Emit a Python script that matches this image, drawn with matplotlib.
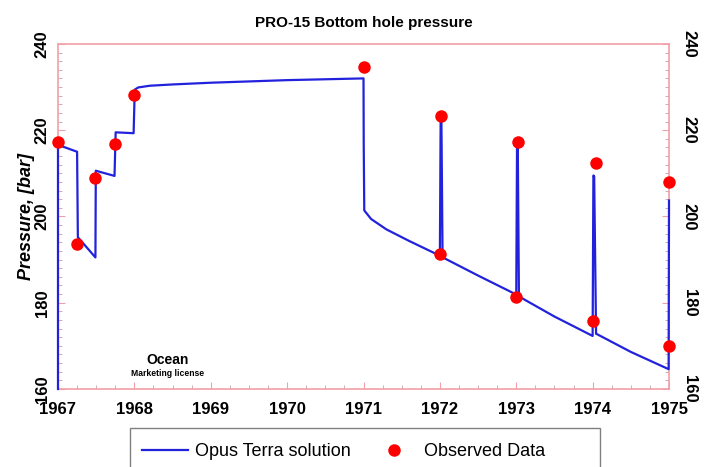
import matplotlib.pyplot as plt
from matplotlib.ticker import MultipleLocator
from matplotlib.patches import Rectangle

plt.rcParams['font.family'] = ['Liberation Sans', 'DejaVu Sans']

# simulated bottom hole pressure (time in years, pressure in bar)
sol_t = [1967.0, 1967.0, 1967.25, 1967.26, 1967.49, 1967.495, 1967.74, 1967.755,
         1967.99, 1968.005, 1968.05, 1968.2, 1968.5, 1969.0, 1969.5, 1970.0,
         1970.5, 1971.0, 1971.003, 1971.01, 1971.1, 1971.3, 1971.6, 1972.0,
         1972.01, 1972.02, 1972.035, 1972.06, 1972.5, 1973.0, 1973.01, 1973.02,
         1973.035, 1973.06, 1973.5, 1974.0, 1974.01, 1974.02, 1974.045, 1974.07,
         1974.5, 1974.995, 1975.0]
sol_p = [160, 216.6, 215.0, 195.2, 190.5, 210.6, 209.4, 219.5,
         219.3, 229.4, 229.9, 230.3, 230.6, 231.0, 231.3, 231.6,
         231.8, 232.0, 216.5, 201.4, 199.4, 197.0, 194.3, 190.9,
         222.4, 222.2, 190.8, 190.3, 186.3, 181.9, 216.0, 215.8,
         181.6, 181.2, 176.8, 172.3, 209.5, 209.3, 172.8, 172.6,
         168.6, 164.6, 203.7]

# observed pressures
obs_t = [1967.0, 1967.25, 1967.49, 1967.75, 1968.0, 1971.0, 1972.0, 1972.02,
         1973.0, 1973.02, 1974.0, 1974.04, 1975.0, 1975.0]
obs_p = [217.2, 193.5, 208.8, 216.7, 228.1, 234.7, 191.2, 223.3,
         181.4, 217.2, 175.8, 212.3, 170.0, 208.1]

years = list(range(1967, 1976))
pticks = [160, 180, 200, 220, 240]

spine_col = '#f2a0a8'

fig = plt.figure(figsize=(7.09, 4.67), dpi=100)
ax = fig.add_axes([0.0818, 0.167, 0.8618, 0.739])

# right hand axis only carries the mirrored labels, drawn first so the curve sits on top
ax2 = ax.twinx()
ax2.set_ylim(160, 240)
ax2.set_yticks(pticks)
ax2.set_yticklabels([str(p) for p in pticks], fontsize=12, fontweight='bold',
                    rotation=-90, va='center')
ax2.yaxis.set_minor_locator(MultipleLocator(2))
for s in ax2.spines.values():
    s.set_visible(False)
ax.set_zorder(ax2.get_zorder() + 1)
ax.patch.set_visible(False)

ax.plot(sol_t, sol_p, color='#2222dd', lw=1.6, clip_on=False, zorder=4,
        label='Opus Terra solution')
ax.plot(obs_t, obs_p, 'o', color='#ff0000', ms=9, mec='none', clip_on=False,
        zorder=5, label='Observed Data')

ax.set_xlim(1967, 1975)
ax.set_ylim(160, 240)
ax.set_xticks(years)
ax.set_xticklabels([str(y) for y in years], fontsize=12, fontweight='bold')
ax.xaxis.set_minor_locator(MultipleLocator(0.25))
ax.set_yticks(pticks)
ax.set_yticklabels([str(p) for p in pticks], fontsize=12, fontweight='bold',
                   rotation=90, va='center')
ax.yaxis.set_minor_locator(MultipleLocator(2))

for s in ax.spines.values():
    s.set_color(spine_col)
    s.set_linewidth(1.2)
for a in (ax, ax2):
    a.tick_params(which='major', direction='in', length=5, color=spine_col)
    a.tick_params(which='minor', direction='in', length=3, color='#c8a0a8')
ax.tick_params(axis='x', pad=9)
ax.tick_params(axis='y', pad=6)
ax2.tick_params(axis='y', pad=9)

ax.set_title('PRO-15 Bottom hole pressure', fontsize=11, fontweight='bold', pad=12)
ax.set_ylabel('Pressure, [bar]', fontsize=13, fontweight='bold', style='italic',
              labelpad=0)

ax.text(0.18, 0.084, 'Ocean', transform=ax.transAxes, ha='center', va='center',
        fontsize=10, fontweight='bold')
ax.text(0.18, 0.046, 'Marketing license', transform=ax.transAxes, ha='center',
        va='center', fontsize=6.2, fontweight='bold')

# legend box sits below the axes and runs off the bottom edge
fig.patches.append(Rectangle((130 / 709, -0.02), 470 / 709, 0.02 + 39 / 467,
                             transform=fig.transFigure, fill=False,
                             edgecolor='#808080', lw=1.0))
h1, l1 = ax.get_legend_handles_labels()
fig.legend(h1, l1, loc='center left', bbox_to_anchor=(142 / 709, 1 - 452 / 467),
           ncol=2, fontsize=13, frameon=False, borderpad=0, borderaxespad=0,
           handlelength=2.55, handletextpad=0.4, columnspacing=1.1)

fig.savefig('out.png', dpi=100)
